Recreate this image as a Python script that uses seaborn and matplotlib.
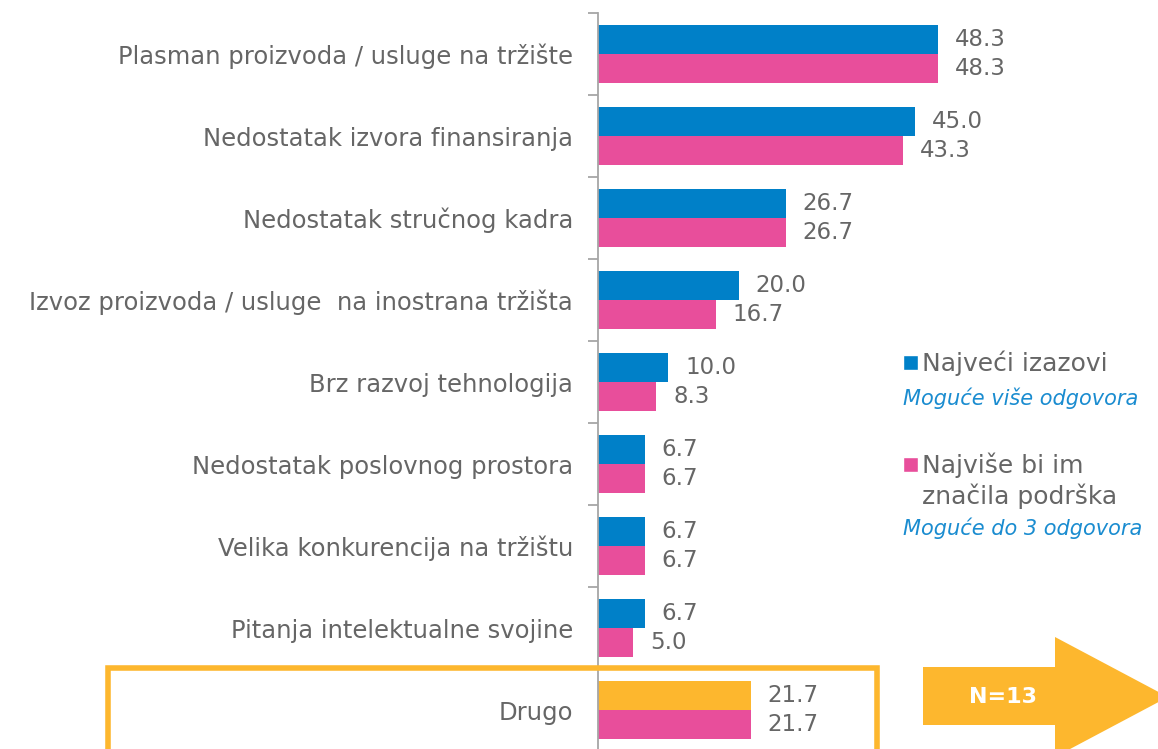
import pandas as pd
import matplotlib.pyplot as plt
import seaborn as sns
from matplotlib.patches import Rectangle, Polygon

# Podaci
kategorije = ['Plasman proizvoda / usluge na tržište',
              'Nedostatak izvora finansiranja',
              'Nedostatak stručnog kadra',
              'Izvoz proizvoda / usluge  na inostrana tržišta',
              'Brz razvoj tehnologija',
              'Nedostatak poslovnog prostora',
              'Velika konkurencija na tržištu',
              'Pitanja intelektualne svojine',
              'Drugo']
izazovi = [48.3, 45.0, 26.7, 20.0, 10.0, 6.7, 6.7, 6.7, 21.7]
podrska = [48.3, 43.3, 26.7, 16.7, 8.3, 6.7, 6.7, 5.0, 21.7]
serije = ['Najveći izazovi', 'Najviše bi im značila podrška']

plava = '#0080C8'
roza = '#E84E9B'
narandzasta = '#FDB72E'
siva = '#666666'

df = pd.DataFrame({
    'kategorija': kategorije * 2,
    'vrednost': izazovi + podrska,
    'serija': [serije[0]] * len(kategorije) + [serije[1]] * len(kategorije),
})

sns.set_style('white')
plt.rcParams['font.family'] = ['DejaVu Sans']

fig = plt.figure(figsize=(11.58, 7.49), dpi=100)
ax = fig.add_axes([0.5164, -0.003, 0.40, 0.9856])

sns.barplot(ax=ax, data=df, y='kategorija', x='vrednost', hue='serija',
            order=kategorije, hue_order=serije, palette=[plava, roza],
            width=0.71, orient='h', legend=False, saturation=1, linewidth=0)

# Drugo - prva traka je narandzasta
ax.containers[0][len(kategorije) - 1].set_facecolor(narandzasta)

for cont in ax.containers:
    ax.bar_label(cont, fmt='%.1f', padding=12, fontsize=16.5, color=siva)

ax.set_xlim(0, 65.8)
ax.set_ylim(len(kategorije) - 0.5, -0.5)
ax.set_xlabel('')
ax.set_ylabel('')
ax.set_xticks([])
ax.set_yticks(range(len(kategorije)))
ax.set_yticklabels(kategorije, fontsize=17.5, color=siva)
ax.set_yticks([i - 0.5 for i in range(len(kategorije) + 1)], minor=True)
ax.tick_params(axis='y', which='major', length=0, pad=18)
ax.tick_params(axis='y', which='minor', left=True, length=7, width=1.3,
               color='#a6a6a6')
for s in ['top', 'right', 'bottom']:
    ax.spines[s].set_visible(False)
ax.spines['left'].set_color('#a6a6a6')
ax.spines['left'].set_linewidth(1.3)

# Okvir oko "Drugo"
W, H = 1158, 749
fig.patches.append(Rectangle((108 / W, -0.01), (877 - 108) / W, (749 - 668) / H + 0.01,
                             transform=fig.transFigure, fill=False,
                             edgecolor=narandzasta, linewidth=4))

# Strelica N=13
strelica = [(923, 667), (1055, 667), (1055, 637), (1168, 697), (1055, 757),
            (1055, 725), (923, 725)]
fig.patches.append(Polygon([(x / W, 1 - y / H) for x, y in strelica],
                           transform=fig.transFigure, facecolor=narandzasta,
                           edgecolor='none'))
fig.text(1003 / W, 1 - 697 / H, 'N=13', color='white', fontsize=16,
         fontweight='bold', ha='center', va='center')

# Legenda
fig.patches.append(Rectangle((903 / W, 1 - 370 / H), 15 / W, 15 / H,
                             transform=fig.transFigure, facecolor=plava))
fig.text(922 / W, 1 - 363 / H, 'Najveći izazovi', color=siva, fontsize=18,
         va='center')
fig.text(903 / W, 1 - 398 / H, 'Moguće više odgovora', color='#1a8cd0',
         fontsize=15, style='italic', va='center')
fig.patches.append(Rectangle((903 / W, 1 - 472 / H), 15 / W, 15 / H,
                             transform=fig.transFigure, facecolor=roza))
fig.text(922 / W, 1 - 465 / H, 'Najviše bi im', color=siva, fontsize=18,
         va='center')
fig.text(922 / W, 1 - 496 / H, 'značila podrška', color=siva, fontsize=18,
         va='center')
fig.text(903 / W, 1 - 528 / H, 'Moguće do 3 odgovora', color='#1a8cd0',
         fontsize=15, style='italic', va='center')

fig.savefig('out.png', dpi=100)
